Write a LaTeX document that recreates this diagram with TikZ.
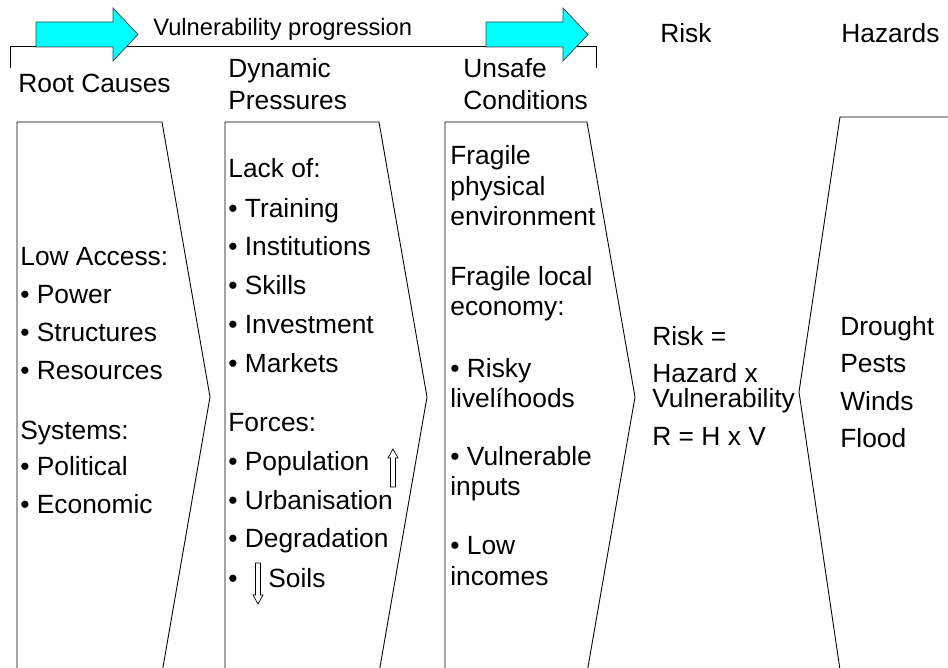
\documentclass[tikz,border=0pt]{standalone}
\usepackage{fontspec}
\setmainfont{Liberation Sans}
\definecolor{arrowcyan}{RGB}{0,255,255}
\tikzset{
    txt/.style={anchor=base west, inner sep=0pt, font=\fontsize{15}{18}\selectfont},
    toptxt/.style={txt, font=\fontsize{13.5}{16}\selectfont},
    blockarrow/.style={fill=arrowcyan, draw=black!75, line width=0.4pt},
    chevron/.style={draw=black, line width=0.5pt},
    hollow/.style={draw=black, fill=white, line width=0.4pt},
}
\begin{document}
\begin{tikzpicture}[x=0.02cm, y=-0.02cm]
    \useasboundingbox (0,0) rectangle (948,668);
    \clip (0,0) rectangle (948,668);
    % progression bracket and arrows
    \draw[line width=0.5pt] (10,68) -- (10,46) -- (596,46) -- (596,68);
    \foreach \x in {36,486} {
        \draw[blockarrow] (\x,22) -- (\x+77,22) -- (\x+77,8) -- (\x+102,34.5)
            -- (\x+77,61) -- (\x+77,47) -- (\x,47) -- cycle;
    }
    \node[toptxt] (prog) at (153,36) {Vulnerability progression};
    % column heads
    \node[txt] (rchead) at (18,93) {Root Causes};
    \node[txt] (dphead1) at (228,78) {Dynamic};
    \node[txt] (dphead2) at (228,110) {Pressures};
    \node[txt] (uchead1) at (463,78) {Unsafe};
    \node[txt] (uchead2) at (463,110) {Conditions};
    \node[txt] (riskhead) at (660,43) {Risk};
    \node[txt] (hzhead) at (841,43) {Hazards};
    % chevrons
    \foreach \l/\r in {17/162, 225/379, 445/587} {
        \draw[chevron] (\l,690) -- (\l,122) -- (\r,122) -- (\r+48,397) -- (\r-3,690);
    }
    \draw[chevron] (960,117) -- (840,117) -- (799,392) -- (843,690);
    % root causes
    \foreach \y/\t [count=\i] in {266/Low Access:, 304/• Power, 342/• Structures,
        380/• Resources, 440/Systems:, 476/• Political, 514/• Economic} {
        \node[txt] (root\i) at (20,\y) {\t};
    }
    % dynamic pressures
    \foreach \y/\t [count=\i] in {178/Lack of:, 218/• Training, 256/• Institutions,
        295/• Skills, 334/• Investment, 373/• Markets, 432/Forces:,
        471/• Population, 510/• Urbanisation, 548/• Degradation, 588/•} {
        \node[txt] (dyn\i) at (228,\y) {\t};
    }
    \node[txt] (soils) at (268,588) {Soils};
    \draw[hollow] (393,449) -- (398,458) -- (395.5,458) -- (395.5,487) -- (390.5,487)
        -- (390.5,458) -- (388,458) -- cycle;
    \draw[hollow] (258,604) -- (263,595) -- (260.5,595) -- (260.5,563) -- (255.5,563)
        -- (255.5,595) -- (253,595) -- cycle;
    % unsafe conditions
    \foreach \y/\t [count=\i] in {165/Fragile, 196/physical, 226/environment,
        286/Fragile local, 316/economy:, 378/• Risky, 408/livelíhoods,
        466/• Vulnerable, 496/inputs, 555/• Low, 586/incomes} {
        \node[txt] (uns\i) at (450,\y) {\t};
    }
    % risk
    \foreach \y/\t [count=\i] in {346/Risk =, 383/Hazard x, 408/Vulnerability,
        446/R = H x V} {
        \node[txt] (risk\i) at (652,\y) {\t};
    }
    % hazards
    \foreach \y/\t [count=\i] in {336/Drought, 373/Pests, 411/Winds, 448/Flood} {
        \node[txt] (haz\i) at (840,\y) {\t};
    }
\end{tikzpicture}
\end{document}
